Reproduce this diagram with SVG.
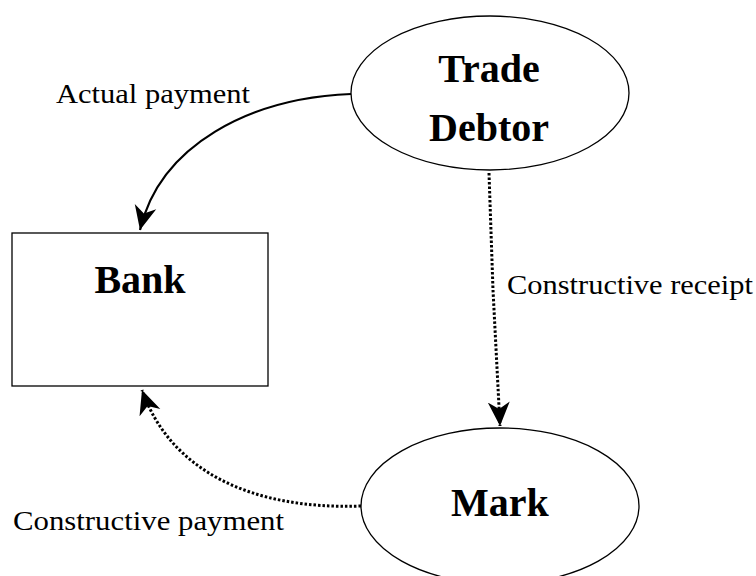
<svg xmlns="http://www.w3.org/2000/svg" width="756" height="576" viewBox="0 0 756 576">
<style>
.shape{fill:#fff;stroke:#000;stroke-width:1.3}
.node{font-family:"Liberation Serif",serif;font-weight:bold;font-size:40px;fill:#000;text-anchor:middle}
.lbl{font-family:"Liberation Serif",serif;font-size:28px;fill:#000}
.solid{fill:none;stroke:#000;stroke-width:2.2}
.dot{fill:none;stroke:#000;stroke-width:3;stroke-dasharray:2.5,2}
</style>
<defs>
<marker id="ah" markerUnits="userSpaceOnUse" markerWidth="26" markerHeight="24" viewBox="0 0 26 24" refX="24" refY="12" orient="auto">
<path d="M0,1 L24,12 L0,23 L7,12 z" fill="#000"/>
</marker>
</defs>
<rect width="756" height="576" fill="#fff"/>
<g id="connectors">
<path class="solid" d="M351,94 C250,98 160,145 140,230" marker-end="url(#ah)"/>
<path class="dot" d="M489,173 L493,290 L500,426" marker-end="url(#ah)"/>
<path class="dot" d="M361,506 C250,510 170,470 142,390" marker-end="url(#ah)"/>
<text class="lbl" x="56" y="103" textLength="194" lengthAdjust="spacingAndGlyphs">Actual payment</text>
<text class="lbl" x="507" y="294" textLength="246" lengthAdjust="spacingAndGlyphs">Constructive receipt</text>
<text class="lbl" x="13" y="530" textLength="271" lengthAdjust="spacingAndGlyphs">Constructive payment</text>
</g>
<g id="trade-debtor">
<ellipse class="shape" cx="490" cy="93" rx="139" ry="77"/>
<text class="node" x="489" y="82">Trade</text>
<text class="node" x="489" y="141">Debtor</text>
</g>
<g id="bank">
<rect class="shape" x="12" y="233" width="256" height="153"/>
<text class="node" x="140" y="293">Bank</text>
</g>
<g id="mark">
<ellipse class="shape" cx="500" cy="506" rx="139" ry="78"/>
<text class="node" x="500" y="516">Mark</text>
</g>
</svg>
